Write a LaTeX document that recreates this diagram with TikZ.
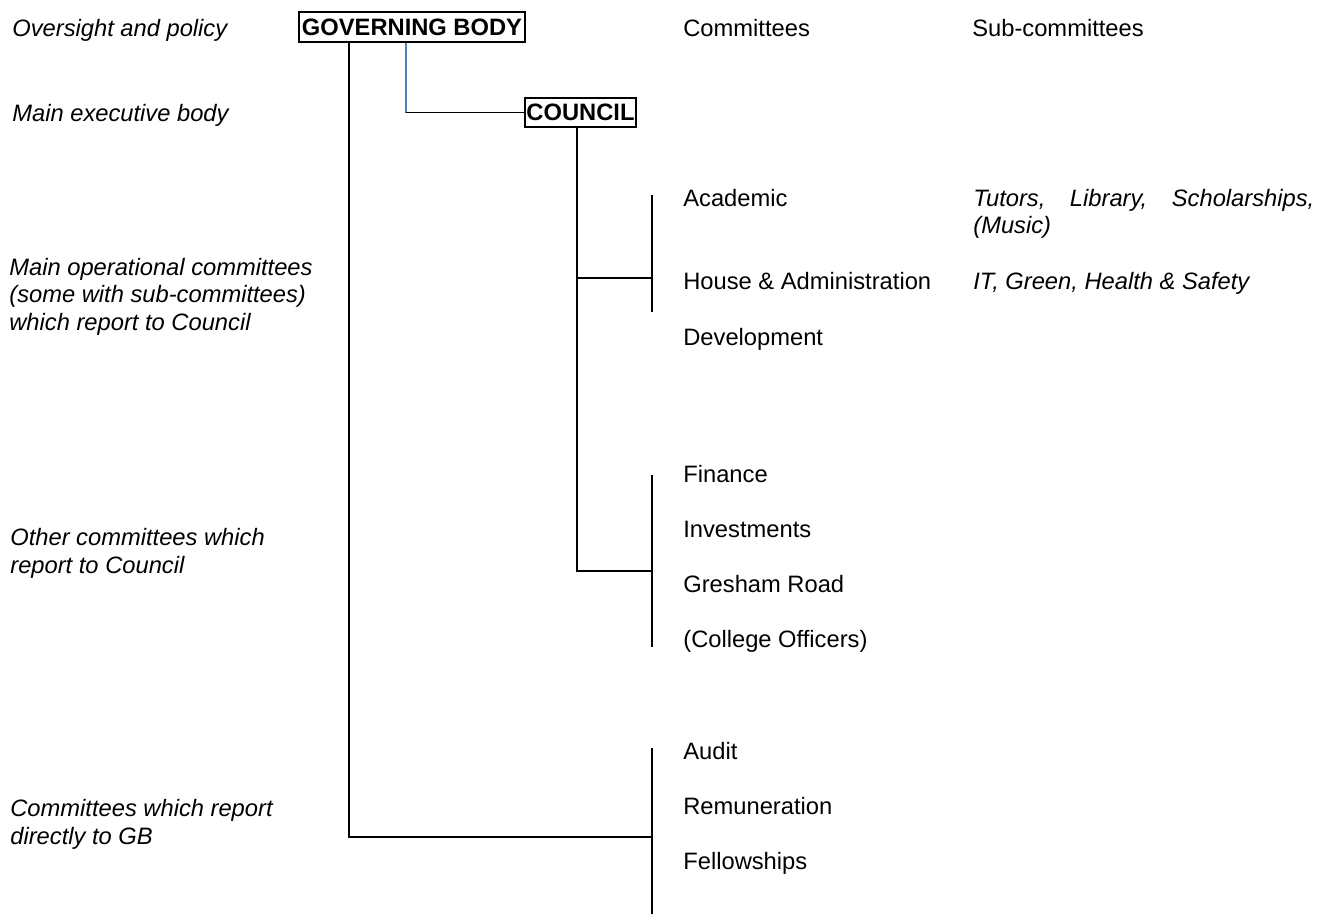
\documentclass[tikz,border=0pt]{standalone}
\usepackage{fontspec}
\setmainfont{Liberation Sans}
\usepackage{xcolor}
\definecolor{gbblue}{RGB}{79,129,189}
\newcommand\chartfont{\fontsize{13.5}{15.4}\selectfont}
\tikzset{
  lbl/.style={anchor=base west, inner sep=0pt, font=\chartfont\itshape, align=left},
  com/.style={anchor=base west, inner sep=0pt, font=\chartfont},
  topbox/.style={draw, line width=1.1pt, font=\chartfont\bfseries, inner xsep=1pt, inner ysep=0pt},
  link/.style={line width=0.8pt},
}
\begin{document}
\begin{tikzpicture}[x=0.02cm,y=-0.02cm]
    \useasboundingbox (0,0) rectangle (1330,914);
    % left column
    \node[lbl] (oversight) at (12,36) {Oversight and policy};
    \node[lbl] (executive) at (12,121) {Main executive body};
    \node[lbl] (operational) at (9,330) {Main operational committees\\(some with sub-committees)\\which report to Council};
    \node[lbl] (other) at (10,573) {Other committees which\\report to Council};
    \node[lbl] (direct) at (10,844) {Committees which report\\directly to GB};
    % headings
    \node[com] (comhead) at (683,36) {Committees};
    \node[com] (subhead) at (972,36) {Sub-committees};
    % boxes
    \node[topbox, minimum width=4.52cm, minimum height=0.6cm] (gb) at (412,27) {GOVERNING BODY};
    \node[topbox, minimum width=2.22cm, minimum height=0.58cm] (council) at (580.5,112.5) {COUNCIL};
    % committees
    \node[com] (academic) at (683,206) {Academic};
    \node[com] (house) at (683,289) {House \& Administration};
    \node[com] (development) at (683,345) {Development};
    \node[com] (finance) at (683,482) {Finance};
    \node[com] (investments) at (683,537) {Investments};
    \node[com] (gresham) at (683,592) {Gresham Road};
    \node[com] (officers) at (683,647) {(College Officers)};
    \node[com] (audit) at (683,759) {Audit};
    \node[com] (remuneration) at (683,814) {Remuneration};
    \node[com] (fellowships) at (683,869) {Fellowships};
    % sub-committees
    \node[lbl, text width=6.82cm, align=justify] (tutors) at (973,206) {Tutors, Library, Scholarships,\linebreak (Music)};
    \node[lbl] (itgreen) at (973,289) {IT, Green, Health \& Safety};
    % connector points
    \coordinate (elbow) at (406,112.5);
    \coordinate (gbFoot) at (349,837);
    \coordinate (councilFoot) at (577,571);
    \coordinate (opTop) at (652,195);
    \coordinate (opMid) at (652,278);
    \coordinate (opBot) at (652,312);
    \coordinate (otherTop) at (652,475);
    \coordinate (otherMid) at (652,571);
    \coordinate (otherBot) at (652,647);
    \coordinate (gbTop) at (652,748);
    \coordinate (gbMid) at (652,837);
    \coordinate (gbBot) at (652,914);
    % brackets
    \draw[link] (opTop) -- (opBot);
    \draw[link] (otherTop) -- (otherBot);
    \draw[link] (gbTop) -- (gbBot);
    % connectors
    \draw[link,gbblue] (gb.south -| elbow) -- (elbow);
    \draw[link] (elbow) -- (council.west);
    \draw[link] (council.south -| councilFoot) -- (councilFoot) -- (otherMid);
    \draw[link] (councilFoot |- opMid) -- (opMid);
    \draw[link] (gb.south -| gbFoot) -- (gbFoot) -- (gbMid);
\end{tikzpicture}
\end{document}
